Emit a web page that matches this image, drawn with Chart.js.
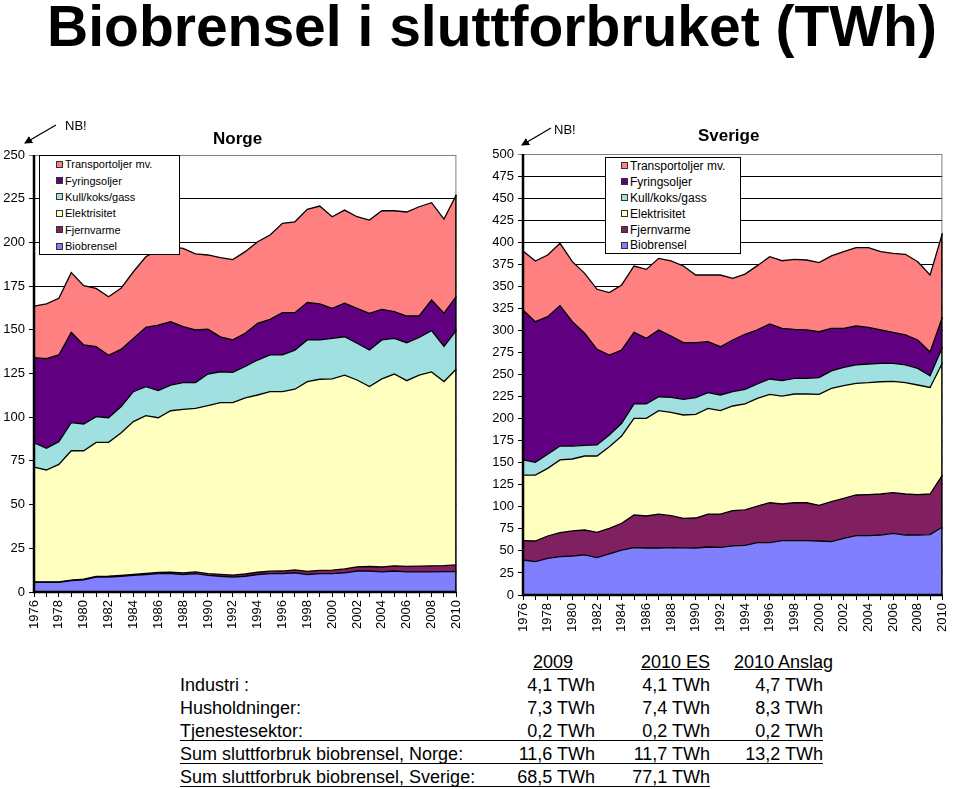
<!DOCTYPE html>
<html lang="no">
<head>
  <meta charset="UTF-8" />
  <title>Biobrensel i sluttforbruket (TWh)</title>
  <script src="https://cdn.jsdelivr.net/npm/chart.js"></script>
  <style>
    body {
      margin: 0;
      width: 960px;
      height: 789px;
      position: relative;
      overflow: hidden;
      background: #fff;
      font-family: "Liberation Sans", Arial, sans-serif;
      color: #000;
    }

    #title {
      position: absolute;
      left: 0;
      width: 984px;
      top: -7px;
      text-align: center;
      font-weight: bold;
      font-size: 57px;
      white-space: nowrap;
    }

    canvas { position: absolute; }

    .ctitle {
      position: absolute;
      font-weight: bold;
      font-size: 17px;
    }

    .nb { position: absolute; font-size: 13px; }

    .legend {
      position: absolute;
      border: 1px solid #000;
      background: #fff;
      box-sizing: border-box;
    }

    .legend .row { display: flex; align-items: center; white-space: nowrap; }

    .legend .sw {
      width: 5px;
      height: 5px;
      border: 1px solid #333;
      margin-right: 2px;
    }

    .cell {
      position: absolute;
      font-size: 18px;
      line-height: 22px;
      white-space: nowrap;
    }

    .r { text-align: right; }
    .u { text-decoration: underline; }

    .uline {
      position: absolute;
      height: 1px;
      background: #000;
    }

    svg { position: absolute; left: 0; top: 0; }
  </style>
</head>

<body>
  <div id="title">Biobrensel i sluttforbruket (TWh)</div>

  <canvas id="norge" width="475" height="510" style="left:0;top:140px"></canvas>
  <canvas id="sverige" width="481" height="510" style="left:480px;top:140px"></canvas>

  <div class="ctitle" style="left:213px;top:129px">Norge</div>
  <div class="ctitle" style="left:698px;top:126px">Sverige</div>

  <div class="nb" style="left:65px;top:118px">NB!</div>
  <div class="nb" style="left:554px;top:122px">NB!</div>

  <svg width="960" height="200">
    <defs>
      <marker id="ah" markerWidth="8" markerHeight="8" refX="7" refY="4" orient="auto" markerUnits="userSpaceOnUse">
        <path d="M0,0 L8,4 L0,8 Z" fill="#000" />
      </marker>
    </defs>
    <line x1="56" y1="125" x2="25" y2="143" stroke="#000" stroke-width="1.3" marker-end="url(#ah)" />
    <line x1="551" y1="128" x2="522" y2="145" stroke="#000" stroke-width="1.3" marker-end="url(#ah)" />
  </svg>

  <div id="legend-no" class="legend" style="left:39px;top:155px;width:141px;height:100px;font-size:11px"></div>
  <div id="legend-se" class="legend" style="left:605px;top:157px;width:136px;height:97px;font-size:12px"></div>

  <div id="table"></div>

  <script>
    const years = ["1976", "1977", "1978", "1979", "1980", "1981", "1982", "1983", "1984", "1985",
      "1986", "1987", "1988", "1989", "1990", "1991", "1992", "1993", "1994", "1995",
      "1996", "1997", "1998", "1999", "2000", "2001", "2002", "2003", "2004", "2005",
      "2006", "2007", "2008", "2009", "2010"];

    // series from bottom of the stack to top
    const seriesNames = ["Biobrensel", "Fjernvarme", "Elektrisitet", "Kull/koks/gass", "Fyringsoljer", "Transportoljer mv."];
    const seriesColors = ["#8080FF", "#802060", "#FFFFC0", "#A0E0E0", "#600080", "#FF8080"];

    // Norge (TWh)
    const noBio = [5.5, 5.5, 5.5, 6.5, 7.0, 8.5, 8.5, 9.0, 9.5, 10.0, 10.5, 10.5, 10.0, 10.5, 9.5, 9.0, 8.5, 9.0, 10.0, 10.5,
      10.5, 11.0, 10.0, 10.5, 10.5, 11.0, 12.0, 12.0, 11.5, 12.0, 11.5, 11.5, 11.5, 11.6, 11.7];
    const noFjernvarme = [0.3, 0.3, 0.3, 0.3, 0.4, 0.4, 0.5, 0.5, 0.5, 0.6, 0.7, 0.8, 0.9, 1.0, 1.0, 1.1, 1.2, 1.3, 1.3, 1.4,
      1.5, 1.6, 1.8, 1.9, 2.0, 2.2, 2.4, 2.6, 2.8, 3.0, 3.2, 3.3, 3.5, 3.5, 3.8];
    const noElektrisitet = [65.7, 64.0, 67.2, 74.0, 73.4, 76.7, 76.6, 81.5, 87.5, 90.3, 88.5, 92.4, 93.6, 93.5, 96.1, 98.2, 98.6, 100.7, 101.4, 102.7,
      102.6, 103.4, 108.5, 109.3, 109.4, 110.9, 106.9, 102.9, 107.6, 109.7, 106.2, 109.3, 110.9, 105.3, 112.1];
    const noKull = [13.9, 12.4, 13.0, 16.1, 15.3, 14.7, 14.1, 15.0, 17.1, 16.6, 15.5, 14.7, 15.3, 14.8, 18.1, 17.7, 17.4, 18.0, 20.0, 21.0,
      21.0, 22.4, 23.9, 22.5, 23.2, 21.9, 21.0, 20.9, 22.3, 20.4, 21.7, 21.5, 23.6, 20.1, 22.1];
    const noFyring = [48.6, 51.3, 49.6, 51.6, 45.2, 40.1, 35.7, 32.8, 30.5, 33.9, 37.5, 36.2, 32.0, 30.1, 25.6, 20.0, 18.5, 19.0, 21.0, 20.4,
      24.2, 21.4, 21.4, 20.6, 17.2, 19.2, 20.0, 21.0, 17.5, 15.3, 15.3, 12.3, 17.5, 19.0, 19.4];
    const noTransport = [29.6, 31.3, 32.4, 34.2, 33.9, 33.3, 33.5, 34.9, 38.1, 40.4, 42.9, 42.8, 44.8, 43.5, 42.5, 45.3, 46.0, 46.7, 46.7, 48.2,
      51.1, 52.0, 53.3, 56.0, 52.4, 53.3, 52.4, 53.4, 56.4, 57.7, 59.5, 62.5, 55.7, 53.8, 58.2];

    // Sverige (TWh)
    const seBio = [39.7, 37.8, 41.6, 43.5, 44.2, 45.4, 42.3, 46.5, 51.0, 53.7, 53.3, 53.3, 53.7, 53.5, 53.3, 54.4, 54.0, 55.6, 56.3, 59.3,
      59.3, 61.6, 61.6, 61.6, 61.2, 60.5, 64.3, 67.3, 67.3, 68.0, 69.9, 68.0, 68.0, 68.5, 77.1];
    const seFjernvarme = [21.9, 23.4, 25.3, 27.2, 28.4, 28.3, 28.8, 29.1, 30.3, 37.0, 36.3, 38.5, 36.2, 33.4, 34.0, 37.4, 37.8, 40.0, 40.1, 41.6,
      45.3, 41.6, 43.0, 43.0, 40.5, 45.3, 45.3, 46.1, 46.5, 46.5, 46.1, 46.5, 45.8, 46.0, 58.9];
    const seElektrisitet = [74.4, 74.8, 76.7, 82.4, 81.6, 83.9, 86.5, 92.6, 99.0, 109.6, 110.7, 117.2, 117.2, 117.2, 117.5, 119.8, 117.2, 118.7, 120.2, 122.1,
      122.9, 122.4, 123.3, 123.3, 125.8, 128.5, 127.7, 126.6, 126.9, 127.3, 126.3, 126.2, 124.3, 120.8, 127.0];
    const seKull = [17.1, 14.4, 15.9, 15.8, 14.7, 12.1, 12.5, 13.2, 14.4, 16.3, 16.3, 15.8, 17.0, 17.8, 18.9, 17.8, 17.8, 16.2, 16.6, 16.2,
      17.4, 17.4, 17.8, 17.8, 18.9, 19.7, 20.9, 20.8, 21.2, 20.9, 20.4, 20.1, 18.9, 13.2, 18.0];
    const seFyring = [170.0, 159.5, 156.1, 159.2, 141.0, 127.0, 108.5, 90.7, 83.1, 81.2, 74.4, 75.7, 69.6, 64.2, 62.4, 57.8, 54.7, 58.6, 62.4, 61.3,
      62.4, 59.4, 55.5, 54.8, 52.1, 48.4, 44.2, 44.2, 41.6, 37.8, 35.1, 34.0, 32.1, 27.0, 34.0];
    const seTransport = [66.9, 68.8, 69.9, 70.6, 68.0, 68.0, 68.0, 70.7, 73.7, 75.2, 78.2, 81.2, 85.0, 86.9, 76.7, 75.6, 81.3, 69.9, 68.3, 72.9,
      76.3, 76.6, 79.4, 79.3, 78.3, 82.0, 86.8, 88.8, 90.3, 88.7, 89.6, 91.5, 88.8, 87.3, 95.0];

    // table under the charts
    const tableHeader = ["2009", "2010 ES", "2010 Anslag"];
    const tableLabels = ["Industri :", "Husholdninger:", "Tjenestesektor:", "Sum sluttforbruk biobrensel, Norge:", "Sum sluttforbruk biobrensel, Sverige:"];
    const col2009 = ["4,1 TWh", "7,3 TWh", "0,2 TWh", "11,6 TWh", "68,5 TWh"];
    const col2010es = ["4,1 TWh", "7,4 TWh", "0,2 TWh", "11,7 TWh", "77,1 TWh"];
    const col2010anslag = ["4,7 TWh", "8,3 TWh", "0,2 TWh", "13,2 TWh", ""];
    const underlinedRows = [2, 3, 4];

    Chart.defaults.font.family = '"Liberation Sans", Arial, sans-serif';
    Chart.defaults.color = "#000";

    // gray plot frame (top/right) and black axes on top of the areas
    const framePlugin = {
      id: "frame",
      afterDatasetsDraw(chart) {
        const { ctx, chartArea: a } = chart;
        const pts = chart.getDatasetMeta(chart.data.datasets.length - 1).data;
        const lastY = pts[pts.length - 1].y;
        ctx.save();
        ctx.lineWidth = 1;
        ctx.strokeStyle = "#808080";
        ctx.beginPath();
        ctx.moveTo(a.left, a.top + 0.5);
        ctx.lineTo(a.right - 0.5, a.top + 0.5);
        ctx.lineTo(a.right - 0.5, lastY);
        ctx.stroke();
        ctx.strokeStyle = "#000";
        ctx.lineWidth = 1.5;
        ctx.beginPath();
        ctx.moveTo(a.right - 0.5, lastY);
        ctx.lineTo(a.right - 0.5, a.bottom);
        ctx.stroke();
        ctx.lineWidth = 2.5;
        ctx.beginPath();
        ctx.moveTo(a.left, a.top);
        ctx.lineTo(a.left, a.bottom);
        ctx.lineTo(a.right, a.bottom);
        ctx.stroke();
        ctx.restore();
      },
    };

    function makeChart(id, series, max, axisW, axisH, pad) {
      const datasets = series.map((data, i) => ({
        label: seriesNames[i],
        data: data,
        backgroundColor: seriesColors[i],
        borderColor: "#000",
        borderWidth: 1.3,
        pointRadius: 0,
        tension: 0,
        fill: i === 0 ? "origin" : "-1",
      }));

      return new Chart(document.getElementById(id), {
        type: "line",
        data: { labels: years, datasets },
        options: {
          responsive: false,
          animation: false,
          layout: { padding: pad },
          plugins: { legend: { display: false }, tooltip: { enabled: false } },
          scales: {
            x: {
              offset: false,
              afterFit: (s) => { s.height = axisH; },
              grid: { drawOnChartArea: false, tickLength: 5, color: "#000" },
              border: { display: false },
              ticks: {
                autoSkip: false,
                minRotation: 90,
                maxRotation: 90,
                padding: 3,
                font: { size: 13 },
                callback: (v, i) => (i % 2 === 0 ? years[i] : ""),
              },
            },
            y: {
              stacked: true,
              min: 0,
              max: max,
              afterFit: (s) => { s.width = axisW; },
              border: { display: false },
              grid: {
                tickLength: 5,
                lineWidth: 1,
                color: (c) => (c.tick && c.tick.value === max ? "#808080" : "#000"),
              },
              ticks: { stepSize: 25, padding: 4, font: { size: 13 } },
            },
          },
        },
        plugins: [framePlugin],
      });
    }

    makeChart("norge", [noBio, noFjernvarme, noElektrisitet, noKull, noFyring, noTransport],
      250, 34, 58, { top: 15, right: 17, left: 0, bottom: 0 });
    makeChart("sverige", [seBio, seFjernvarme, seElektrisitet, seKull, seFyring, seTransport],
      500, 43, 55, { top: 14, right: 8, left: 0, bottom: 0 });

    // legends: top series first, like the original
    function buildLegend(id, rowH, indent) {
      const box = document.getElementById(id);
      for (let i = seriesNames.length - 1; i >= 0; i--) {
        const row = document.createElement("div");
        row.className = "row";
        row.style.height = rowH + "px";
        row.style.paddingLeft = indent + "px";
        const sw = document.createElement("span");
        sw.className = "sw";
        sw.style.background = seriesColors[i];
        row.appendChild(sw);
        row.appendChild(document.createTextNode(seriesNames[i]));
        box.appendChild(row);
      }
    }
    buildLegend("legend-no", 16.4, 16);
    buildLegend("legend-se", 15.9, 15);

    // table
    const table = document.getElementById("table");
    function cell(text, x, y, cls, width) {
      const d = document.createElement("div");
      d.className = "cell " + (cls || "");
      d.textContent = text;
      d.style.top = (y - 11) + "px";
      if (width) {
        d.style.left = (x - width) + "px";
        d.style.width = width + "px";
      } else {
        d.style.left = x + "px";
      }
      table.appendChild(d);
    }

    cell(tableHeader[0], 533, 662, "u");
    cell(tableHeader[1], 710, 662, "r u", 120);
    cell(tableHeader[2], 833, 662, "r u", 120);

    const rowY = [685, 708, 731, 754, 777];
    tableLabels.forEach((label, i) => {
      const y = rowY[i];
      cell(label, 180, y);
      cell(col2009[i], 595, y, "r", 110);
      cell(col2010es[i], 710, y, "r", 110);
      if (col2010anslag[i]) cell(col2010anslag[i], 823, y, "r", 110);
      if (underlinedRows.includes(i)) {
        const line = document.createElement("div");
        line.className = "uline";
        line.style.left = "180px";
        line.style.top = (y + 9) + "px";
        line.style.width = (col2010anslag[i] ? 823 - 180 : 710 - 180) + "px";
        table.appendChild(line);
      }
    });
  </script>
</body>

</html>
